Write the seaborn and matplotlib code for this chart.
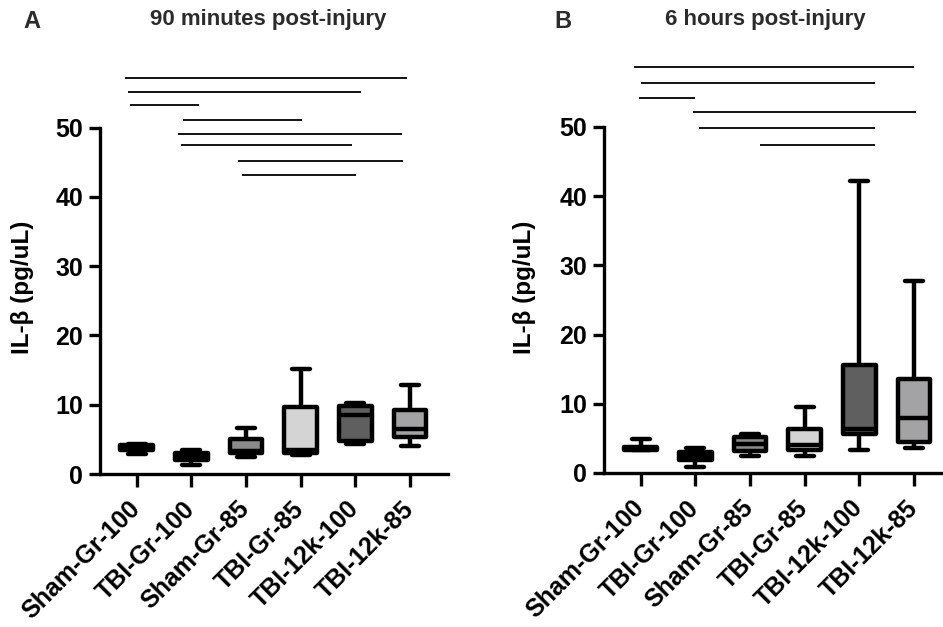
import matplotlib
matplotlib.use("Agg")
import matplotlib.pyplot as plt
import seaborn as sns
import pandas as pd

# ---------------- data ----------------
groups = ["Sham-Gr-100", "TBI-Gr-100", "Sham-Gr-85", "TBI-Gr-85", "TBI-12k-100", "TBI-12k-85"]

# Panel A: 90 minutes post-injury  (min, Q1, median, Q3, max)
a_sham_gr_100 = [2.9, 3.4, 3.8, 4.2, 4.3]
a_tbi_gr_100 = [1.3, 2.0, 2.5, 3.0, 3.4]
a_sham_gr_85 = [2.4, 3.0, 3.3, 5.0, 6.6]
a_tbi_gr_85 = [2.8, 3.1, 3.4, 9.7, 15.2]
a_tbi_12k_100 = [4.3, 4.8, 8.5, 9.8, 10.3]
a_tbi_12k_85 = [4.1, 5.3, 6.5, 9.2, 12.8]

# Panel B: 6 hours post-injury
b_sham_gr_100 = [3.3, 3.35, 3.6, 3.8, 4.9]
b_tbi_gr_100 = [0.9, 1.9, 2.4, 3.0, 3.6]
b_sham_gr_85 = [2.5, 3.2, 4.2, 5.2, 5.7]
b_tbi_gr_85 = [2.5, 3.3, 4.0, 6.4, 9.6]
b_tbi_12k_100 = [3.3, 5.6, 6.4, 15.6, 42.2]
b_tbi_12k_85 = [3.6, 4.5, 8.0, 13.6, 27.7]

# significance bars (height, start, end in data units)
a_sig_y = [57.2, 55.1, 53.3, 51.1, 49.1, 47.5, 45.2, 43.1]
a_sig_x0 = [-0.21, -0.16, -0.12, 0.85, 0.75, 0.81, 1.86, 1.93]
a_sig_x1 = [4.94, 4.11, 1.14, 3.02, 4.86, 3.94, 4.87, 4.01]

b_sig_y = [58.6, 56.3, 54.2, 52.2, 49.8, 47.4]
b_sig_x0 = [-0.12, 0.01, -0.03, 0.96, 1.06, 2.19]
b_sig_x1 = [5.0, 4.28, 1.0, 5.03, 4.28, 4.28]

fill_colors = ["#ffffff", "#3c3c3c", "#8a8a8a", "#d4d4d4", "#5f5f5f", "#a3a3a6"]

yticks = [0, 10, 20, 30, 40, 50]
titles = ["90 minutes post-injury", "6 hours post-injury"]
letters = ["A", "B"]
ylabel = "IL-\u03b2 (pg/uL)"

# ---------------- styling ----------------
sns.set_theme(style="ticks")
plt.rcParams["font.family"] = ["Liberation Sans", "DejaVu Sans"]
plt.rcParams["font.weight"] = "bold"

palette = dict(zip(groups, fill_colors))

fig = plt.figure(figsize=(9.43, 6.27), dpi=100)
W, H = 943.0, 627.0
axA = fig.add_axes([100 / W, 153 / H, 347.7 / W, 346.5 / H])
axB = fig.add_axes([604 / W, 154 / H, 347.7 / W, 346.0 / H])


def draw(ax, values, sig_y, sig_x0, sig_x1):
    df = pd.DataFrame({
        "group": [g for g, v in zip(groups, values) for _ in v],
        "val": [x for v in values for x in v],
    })
    sns.boxplot(data=df, x="group", y="val", hue="group", order=groups,
                hue_order=groups, palette=palette, saturation=1, legend=False,
                whis=(0, 100), width=0.6, linecolor="black", linewidth=3.2,
                capwidths=0.33, ax=ax,
                capprops={"solid_capstyle": "round"},
                boxprops={"joinstyle": "round"})
    for y, x0, x1 in zip(sig_y, sig_x0, sig_x1):
        ax.plot([x0, x1], [y, y], color="black", lw=1.3, clip_on=False,
                solid_capstyle="butt")
    ax.set_xlim(-0.67, 5.69)
    ax.set_ylim(0, 50)
    ax.set_yticks(yticks)
    ax.set_yticklabels([str(t) for t in yticks], fontsize=18, fontweight="bold")
    ax.set_xticks(range(len(groups)))
    ax.set_xticklabels(groups, rotation=45, ha="right", va="center",
                       rotation_mode="anchor", fontsize=18, fontweight="bold")
    ax.set_xlabel("")
    ax.set_ylabel("")
    sns.despine(ax=ax)
    for s in ("left", "bottom"):
        ax.spines[s].set_linewidth(2.4)
        ax.spines[s].set_color("black")
    ax.tick_params(axis="y", length=8, width=2.4, pad=4, colors="black")
    ax.tick_params(axis="x", length=9.5, width=2.4, pad=13, colors="black")
    ax.grid(False)


draw(axA, [a_sham_gr_100, a_tbi_gr_100, a_sham_gr_85, a_tbi_gr_85, a_tbi_12k_100, a_tbi_12k_85],
     a_sig_y, a_sig_x0, a_sig_x1)
draw(axB, [b_sham_gr_100, b_tbi_gr_100, b_sham_gr_85, b_tbi_gr_85, b_tbi_12k_100, b_tbi_12k_85],
     b_sig_y, b_sig_x0, b_sig_x1)

# y labels
fig.text(22 / W, 1 - 287 / H, ylabel, rotation=90, ha="center", va="center",
         fontsize=17.5, fontweight="bold", color="black")
fig.text(524 / W, 1 - 287 / H, ylabel, rotation=90, ha="center", va="center",
         fontsize=17.5, fontweight="bold", color="black")

# titles and panel letters
fig.text(268 / W, 1 - 19 / H, titles[0], ha="center", va="center",
         fontsize=16, fontweight="bold", color="#2b2b2b")
fig.text(765 / W, 1 - 19 / H, titles[1], ha="center", va="center",
         fontsize=16, fontweight="bold", color="#2b2b2b")
fig.text(32 / W, 1 - 22 / H, letters[0], ha="center", va="center",
         fontsize=17, fontweight="bold", color="#2b2b2b")
fig.text(563 / W, 1 - 22 / H, letters[1], ha="center", va="center",
         fontsize=17, fontweight="bold", color="#2b2b2b")

fig.savefig("out.png", dpi=100)
